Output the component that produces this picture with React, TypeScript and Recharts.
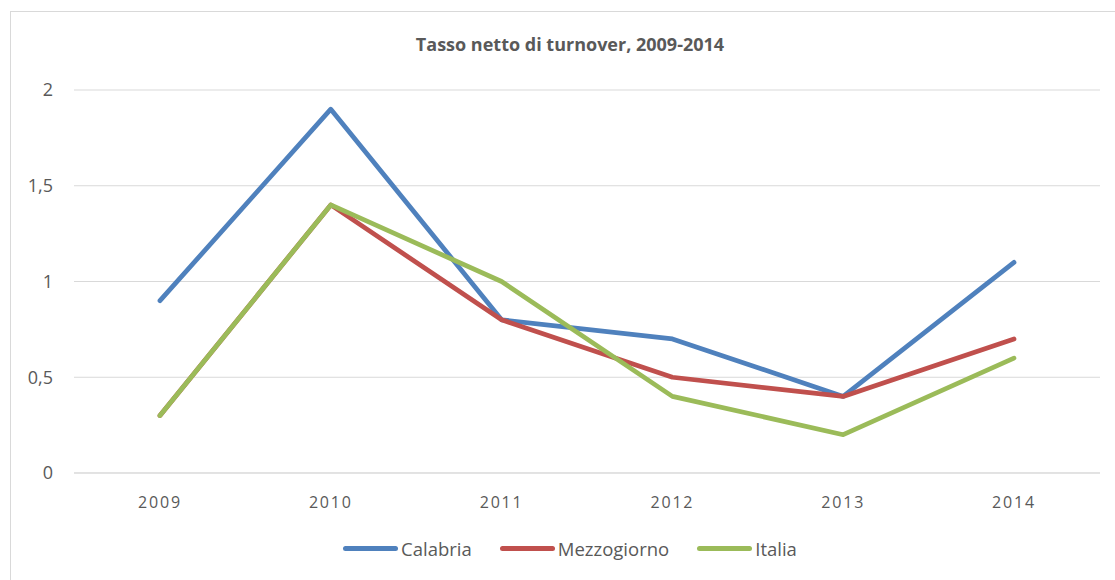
import React from 'react';
import { LineChart, Line, XAxis, YAxis, CartesianGrid } from 'recharts';

// values
const years = ['2009', '2010', '2011', '2012', '2013', '2014'];
const calabria = [0.9, 1.9, 0.8, 0.7, 0.4, 1.1];
const mezzogiorno = [0.3, 1.4, 0.8, 0.5, 0.4, 0.7];
const italia = [0.3, 1.4, 1.0, 0.4, 0.2, 0.6];
const yTicks = [0, 0.5, 1, 1.5, 2];

const series = [
  { key: 'Calabria', color: '#4F81BD' },
  { key: 'Mezzogiorno', color: '#C0504D' },
  { key: 'Italia', color: '#9BBB59' },
];

const data = years.map((year, i) => ({
  year,
  Calabria: calabria[i],
  Mezzogiorno: mezzogiorno[i],
  Italia: italia[i],
}));

const FONT = '"Open Sans", "Noto Sans", sans-serif';
const TEXT = '#595959';

const App: React.FC = () => {
  return (
    <div style={{ position: 'absolute', left: 0, top: 0, width: 1115, height: 580, background: '#fff', overflow: 'hidden', fontFamily: FONT }}>
      {/* chart frame */}
      <div style={{ position: 'absolute', left: 10, top: 11, width: 1200, height: 700, border: '1px solid #d9d9d9' }} />
      <div style={{ position: 'absolute', top: 32, left: 0, width: 1140, textAlign: 'center', fontSize: 18, fontWeight: 700, color: TEXT }}>
        Tasso netto di turnover, 2009-2014
      </div>
      <LineChart
        width={1115}
        height={580}
        data={data}
        margin={{ top: 90, right: 15, bottom: 0, left: 14 }}
        style={{ position: 'absolute', left: 0, top: 0 }}
      >
        <CartesianGrid vertical={false} stroke="#d9d9d9" strokeWidth={1} />
        <XAxis
          dataKey="year"
          padding={{ left: 86, right: 86 }}
          axisLine={{ stroke: '#d9d9d9' }}
          tickLine={false}
          tickSize={0}
          tickMargin={24}
          height={107}
          tick={{ fill: TEXT, fontSize: 16, fontFamily: FONT, letterSpacing: 1.8 }}
        />
        <YAxis
          domain={[0, 2]}
          ticks={yTicks}
          width={60}
          axisLine={false}
          tickLine={false}
          tickSize={0}
          tickMargin={21}
          tickFormatter={(v: number) => String(v).replace('.', ',')}
          tick={{ fill: TEXT, fontSize: 18, fontFamily: FONT }}
        />
        {series.map((s) => (
          <Line
            key={s.key}
            dataKey={s.key}
            stroke={s.color}
            strokeWidth={4.75}
            dot={false}
            strokeLinejoin="round"
            strokeLinecap="round"
            isAnimationActive={false}
          />
        ))}
      </LineChart>
      {/* legend */}
      <div style={{ position: 'absolute', top: 536, left: 0, width: 1140, display: 'flex', justifyContent: 'center', gap: 28, fontSize: 18.5, color: TEXT }}>
        {series.map((s) => (
          <div key={s.key} style={{ display: 'flex', alignItems: 'center' }}>
            <span style={{ display: 'inline-block', width: 55, height: 5, borderRadius: 3, background: s.color, marginRight: 3 }} />
            <span>{s.key}</span>
          </div>
        ))}
      </div>
    </div>
  );
};

export default App;
